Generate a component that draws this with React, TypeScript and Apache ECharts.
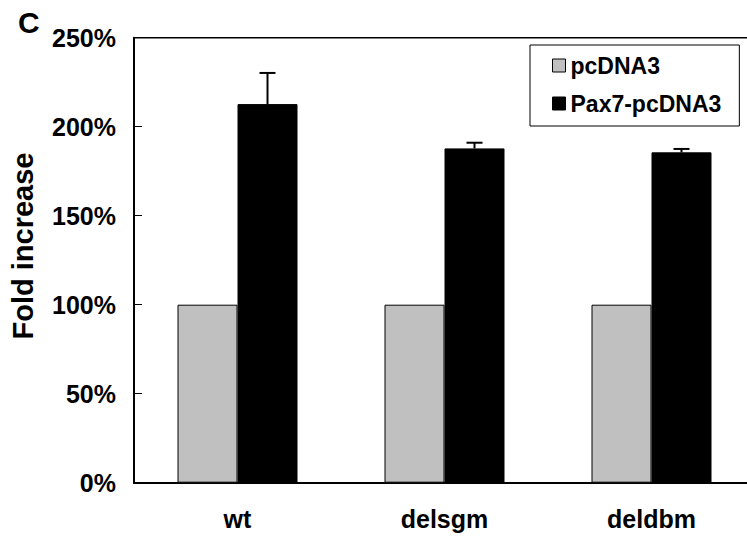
import React, { useEffect, useRef } from "react";
import * as echarts from "echarts";

const categories = ["wt", "delsgm", "deldbm"];
const pcDNA3 = [100, 100, 100];
const pax7 = [212.7, 187.8, 185.6];
const pax7Err = [17.5, 3.2, 1.9];
const yTicks = [0, 50, 100, 150, 200, 250];

const FONT = "'Liberation Sans', Arial, sans-serif";

export default function App() {
  const ref = useRef<HTMLDivElement>(null);
  useEffect(() => {
    document.body.style.margin = "0";
    const chart = echarts.init(ref.current!, null, { renderer: "svg" });
    const errData = categories.map((_, i) => [i, pax7[i], pax7[i] + pax7Err[i]]);
    chart.setOption({
      animation: false,
      backgroundColor: "#fff",
      textStyle: { fontFamily: FONT },
      grid: {
        left: 134,
        top: 37.7,
        height: 445,
        width: 621,
        outerBoundsMode: "none",
        containLabel: false,
        show: true,
        borderColor: "#000",
        borderWidth: 1.5,
      },
      legend: {
        left: 530,
        top: 45,
        orient: "vertical",
        itemWidth: 13,
        itemHeight: 13,
        itemGap: 15,
        itemTextGap: 10,
        padding: [9, 18, 11, 22],
        borderColor: "#000",
        borderWidth: 1,
        textStyle: { fontSize: 23, fontWeight: "bold", color: "#000", fontFamily: FONT, lineHeight: 23 },
        data: [
          { name: "pcDNA3", icon: "rect", itemStyle: { color: "#c0c0c0", borderColor: "#000", borderWidth: 1 } },
          { name: "Pax7-pcDNA3", icon: "rect", itemStyle: { color: "#000", borderColor: "#000", borderWidth: 1 } },
        ],
      },
      xAxis: {
        type: "category",
        data: categories,
        axisLine: { lineStyle: { color: "#000", width: 2 } },
        axisTick: { inside: true, length: 7, lineStyle: { color: "#777", width: 1 } },
        axisLabel: { fontSize: 25, fontWeight: "bold", color: "#000", margin: 24, fontFamily: FONT },
      },
      yAxis: {
        type: "value",
        min: yTicks[0],
        max: yTicks[yTicks.length - 1],
        interval: 50,
        splitLine: { show: false },
        axisLine: { show: true, lineStyle: { color: "#000", width: 2 } },
        axisTick: { show: true, inside: true, length: 8, lineStyle: { color: "#000", width: 1 } },
        axisLabel: { fontSize: 25, fontWeight: "bold", color: "#000", margin: 18, formatter: "{value}%", fontFamily: FONT },
      },
      series: [
        {
          name: "pcDNA3",
          type: "bar",
          data: pcDNA3,
          barWidth: 60,
          barGap: "0%",
          itemStyle: { color: "#c0c0c0", borderColor: "#000", borderWidth: 1 },
        },
        {
          name: "Pax7-pcDNA3",
          type: "bar",
          data: pax7,
          barWidth: 60,
          barGap: "0%",
          itemStyle: { color: "#000", borderColor: "#000", borderWidth: 1 },
        },
        {
          type: "custom",
          name: "err",
          data: errData,
          z: 10,
          renderItem: (params: any, api: any) => {
            const base = api.coord([api.value(0), api.value(1)]);
            const top = api.coord([api.value(0), api.value(2)]);
            const x = base[0] + 30;
            const half = 8;
            return {
              type: "group",
              children: [
                { type: "line", shape: { x1: x, y1: base[1], x2: x, y2: top[1] }, style: { stroke: "#000", lineWidth: 2 } },
                { type: "line", shape: { x1: x - half, y1: top[1], x2: x + half, y2: top[1] }, style: { stroke: "#000", lineWidth: 2 } },
              ],
            };
          },
        },
      ],
      graphic: [
        {
          type: "text",
          x: 18,
          y: 22,
          style: { text: "C", fontSize: 30, fontWeight: "bold", fill: "#000", fontFamily: FONT, textVerticalAlign: "middle" },
        },
        {
          type: "text",
          x: 23,
          y: 246,
          rotation: Math.PI / 2,
          style: {
            text: "Fold increase",
            fontSize: 29,
            fontWeight: "bold",
            fill: "#000",
            fontFamily: FONT,
            textAlign: "center",
            textVerticalAlign: "middle",
          },
        },
      ],
    });
    return () => chart.dispose();
  }, []);
  return <div ref={ref} style={{ width: 747, height: 536 }} />;
}
